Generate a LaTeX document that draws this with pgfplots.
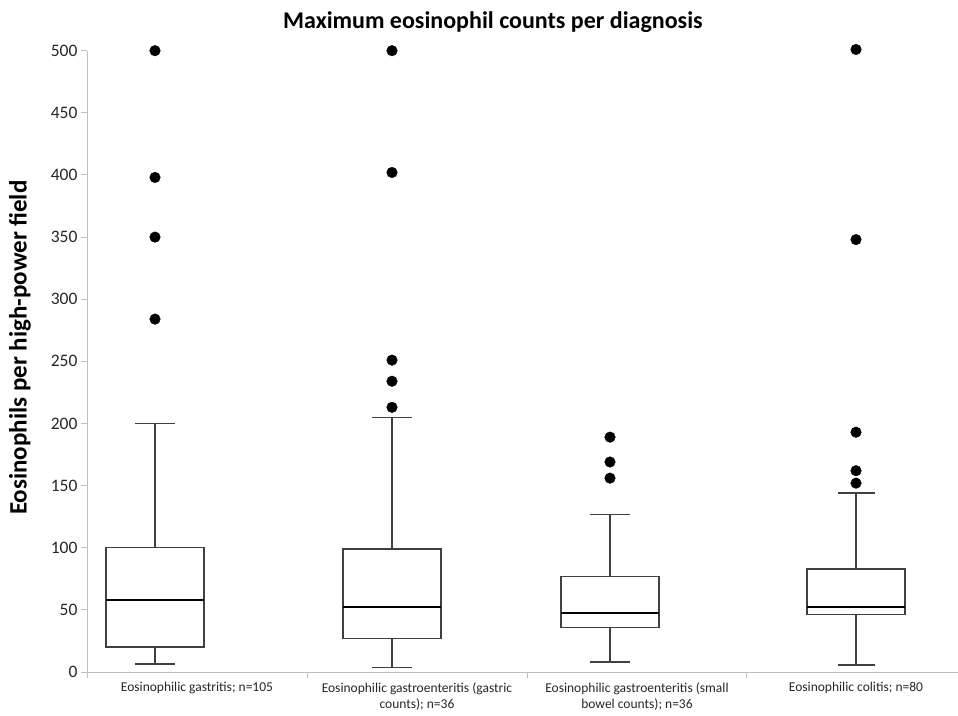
\documentclass[border=0pt]{standalone}
\usepackage{pgfplots}
\pgfplotsset{compat=1.18}
\usepgfplotslibrary{statistics}
\usepackage{fontspec}
\setmainfont{Carlito}
\definecolor{axgray}{HTML}{BFBFBF}
\definecolor{boxline}{HTML}{404040}
\begin{document}
\begin{tikzpicture}[x=1pt,y=1pt]
\useasboundingbox (0,0) rectangle (958,715);
\begin{axis}[
  at={(87pt,43pt)}, anchor=south west,
  scale only axis, width=871pt, height=621.3pt,
  xmin=87, xmax=958, ymin=0, ymax=500,
  clip=false,
  axis x line*=bottom, axis y line*=left,
  axis line style={-, draw=axgray, line width=1pt},
  ytick={0,50,...,500},
  /pgf/number format/assume math mode=true,
  yticklabel style={font=\fontsize{17.5}{17.5}\selectfont, text=black!85},
  xtick={197,417,637,856},
  xticklabels={{Eosinophilic gastritis; n=105},{Eosinophilic gastroenteritis (gastric\\counts); n=36},{Eosinophilic gastroenteritis (small\\bowel counts); n=36},{Eosinophilic colitis; n=80}},
  xticklabel style={align=center, font=\fontsize{13.5}{16}\selectfont, text=black!85, yshift=-1pt},
  major x tick style={draw=none},
  minor xtick={87,307,527,746},
  tick align=outside,
  major tick length=6pt, minor tick length=6pt,
  tick style={draw=axgray, line width=1pt},
  title={Maximum eosinophil counts per diagnosis},
  title style={font=\bfseries\fontsize{24}{24}\selectfont, at={(axis description cs:0.466,1)}, anchor=base, yshift=16pt},
  ylabel={Eosinophils per high-power field},
  ylabel style={font=\bfseries\fontsize{25}{25}\selectfont, at={(axis description cs:-0.077,0.522)}, anchor=center},
  boxplot/draw direction=y,
  boxplot/every box/.style={draw=boxline, line width=1.3pt},
  boxplot/every whisker/.style={draw=boxline, line width=1.3pt},
  boxplot/every median/.style={draw=black, line width=2pt},
]
\addplot+[boxplot prepared={draw position=155, median=58, upper quartile=100, lower quartile=20, upper whisker=200, lower whisker=6.5, box extend=98, whisker extend=40}, draw=boxline, mark=*, mark size=5.3pt, mark options={fill=black, draw=black}]
  table[row sep=\\, y index=0] {y\\ 500\\ 398\\ 350\\ 284\\};
\addplot+[boxplot prepared={draw position=392, median=52, upper quartile=99, lower quartile=27, upper whisker=205, lower whisker=3.5, box extend=98, whisker extend=40}, draw=boxline, mark=*, mark size=5.3pt, mark options={fill=black, draw=black}]
  table[row sep=\\, y index=0] {y\\ 500\\ 402\\ 251\\ 234\\ 213\\};
\addplot+[boxplot prepared={draw position=610, median=47.5, upper quartile=77, lower quartile=36, upper whisker=127, lower whisker=8, box extend=98, whisker extend=40}, draw=boxline, mark=*, mark size=5.3pt, mark options={fill=black, draw=black}]
  table[row sep=\\, y index=0] {y\\ 189\\ 169\\ 156\\};
\addplot+[boxplot prepared={draw position=856, median=52, upper quartile=83, lower quartile=46, upper whisker=144, lower whisker=5.6, box extend=98, whisker extend=37}, draw=boxline, mark=*, mark size=5.3pt, mark options={fill=black, draw=black}]
  table[row sep=\\, y index=0] {y\\ 501\\ 348\\ 193\\ 162\\ 152\\};
\end{axis}
\end{tikzpicture}
\end{document}
